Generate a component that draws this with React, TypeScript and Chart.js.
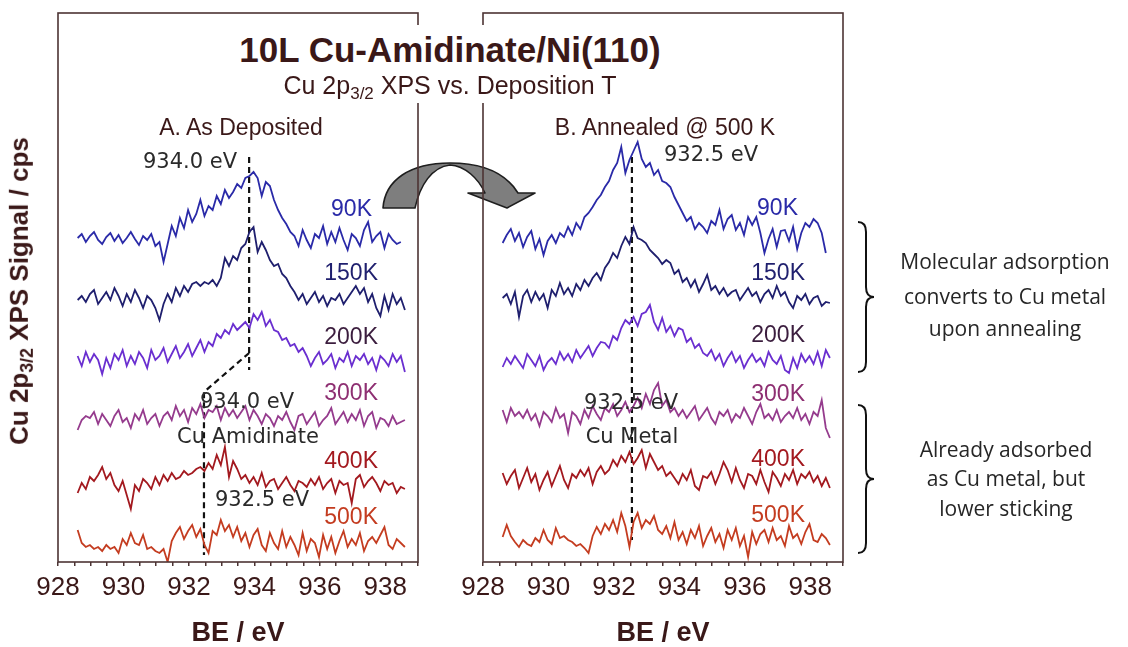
import React, { useEffect, useRef } from "react";
import { Chart, registerables } from "chart.js";

Chart.register(...registerables);

// ---- Binding-energy grid (eV) shared by every spectrum ----
const BE_START = 928.6;
const BE_STEP = 0.125;
const POINTS = 81;
const bindingEnergy: number[] = Array.from({ length: POINTS }, (_, i) =>
  Number((BE_START + i * BE_STEP).toFixed(3))
);

const temperatures = ["90K", "150K", "200K", "300K", "400K", "500K"];
const xTickLabels = ["928", "930", "932", "934", "936", "938"];

// ---- A. As deposited: Cu 2p3/2 signal above each trace's baseline (cps, a.u.) ----
const asDep90K = [
  2, 6, -2, 4, 8, 0, -4, 3, 7, -1, 5, -3, 2, 8, 1, -5, 4, 0, 6, -6, -2,
  -22,
  -4, 14, 4, 22,
  12, 30, 18, 26, 40, 24, 34, 30,
  44, 36, 50, 42, 48, 56, 52, 62,
  64, 68, 62, 44, 58, 54,
  40, 30, 22, 16, 8,
  4, -6, 10, 0, -8, 6, 2, 14, -4, 8, -2, 12, 0, -10, 6, 2, -6, 10, 18, -2, 4, 8, -8, 6, 0, -4, -2,
];
const asDep150K = [
  0, 4, -2, 6, 10, -4, 2, 8, 0, 12, 4, -6, 6, -2, 10, 2, -8, 4, 0, -8,
  -20,
  -4, 6, -2, 12, 4, 14, 8, 16, 18,
  14, 18, 16, 20, 14, 22,
  42, 34, 44, 40,
  52, 56, 68, 73,
  48, 58, 50, 40,
  34, 36, 26, 22, 14, 8,
  0, 6, -4, 2, 8, -2, 4, -6, 2, 0, 6, -4, 2, 8, 14, 6, 12, -2, 6, -8, -16, 4, -10, 6, -4, 2, -10,
];
const asDep200K = [
  4, -6, 8, -2, 6, 0, -14, 2, -8, 6, 0, 10, -6, 4, -4, 8, 2, -8, 10, 0, 4, 12, -2, 6, 14, 2,
  8, 16, 4, 12, 20, 8, 18, 14, 26, 22, 30, 26, 36,
  30, 34, 38, 32, 46, 40,
  48, 34, 40, 30,
  28, 20, 22, 14, 16, 8, 12,
  4, -6, 2, 8, -4, 0, 6, -8, 2, -2, 8, -6, 4, 0, 6, -4, 2, -10, 4, 0, -6, 6, -2, 4, -12,
];
const asDep300K = [
  -10, 0, 4, 2, 8, -4, 6, 0, -6, 4, 10, -2, 2, -8, 6, 0, 10, -4, 2, 6,
  -6, 4, 8, 0, 14, 4, 10, -2, 12, 6, 16, 2, 10, 8, 14, 0, 12, 4, 10, 2,
  8, 14, 0, 10, 4, -4, 6, 2, -6, 4, 0, 8, -2, -10, 4, 6, -4, 2, 8, -6,
  0, 4, 12, -4, 2, 8, -2, 6, 0, 10, -6, 4, 8, -8, 2, 0, -6, 4, -4, -2, 0,
];
const asDep400K = [
  -8, 2, -4, 8, 4, 10, 18, 6, 12, 0, -6, 4, -10,
  -24,
  0, -6, 6, 2, -4, 8, 0, 10, 4, 12, 6, 8, 14, 10, 12, 16,
  18, 14, 22, 16, 30, 20, 38, 8, 24, 16, 6,
  10, 2, 8, 0, 12, -2, 4, 6, -4, 2, 8, 0, -6, 4, 2, -2, 6, 0, 8, -4, 2, 6, -8, 4, 0, 2, -18, 6, 10, -2, 4, 8, 2, -6, 4, 0, 2, -8, -2, -4,
];
const asDep500K = [
  15, 2, -2, 0, -4, -2, -6, 0, -4, -2, -8, 6, 0, 12, 2, 0, 10, -4, -2, -6, -8, -4,
  -17,
  4, 12, 18, 6, 14, 20, 8, 16, 0, -8, 14, 10,
  25, 14, 20, 8, 18, 4, 12, -2, 10, 16, 0, -6, 12, 2, -4, 14, -2, 8, 0, -10, 12, -6, 6, 2, -12, 10, -4, 8, -8, 4, 14, -2, 6, 0, 12, -6, 4, 8, 2, 10, 18, 0, -4, 6, 2, -2,
];

// ---- B. Annealed @ 500 K ----
const ann90K = [
  0, 8, 14, 2, 10, -4, 6, 12, -6, 4, -12, 2, 8, 0, 10, 6,
  16, 8, 20, 14, 26, 30, 36,
  43, 48, 56, 62, 73, 80,
  96, 70, 83, 92, 101, 84,
  76, 80, 68, 73, 62, 60, 56, 46, 38,
  30, 22, 26, 14, 20, 16, 10, 22, 18,
  33, 14, 24, 28, 13, 20, 8, 26, 18, 26, 10, -10, 4, 14, -4, 12, 13, 2, 16, -6, 10, 20, 16, 24, 20, 10, -10,
];
const ann150K = [
  2, 6, -4, 8, -17, 4, 10, -2, 8, 0, 6, -8, 10, 4,
  17, 6, 12, 4, 16, 10, 20, 14, 22,
  27, 20, 32, 38, 47, 42, 54,
  63, 56, 73, 62, 60,
  57, 50, 46, 42, 36, 40, 37, 26, 30, 18, 22,
  13, 20, 8, 16, 25, 10, 14, 6, 12, 4, 8, 10, 0, 6, 12, 4, 8, -2, 6, 10, 2, 14, 4, 8, -2, -8, 4, 0, 6, -4, 2, 4, -6, -2, -3,
];
const ann200K = [
  -5, 4, -2, 6, 0, -6, 8, 2, -4, 6, -8, 0, 4, -2, 10, 2,
  8, 0, 12, 4, 10, 16, 6, 14, 20,
  19, 14, 26, 22, 34, 42, 38, 45, 36, 48, 50,
  57, 40, 32, 44, 30, 36, 26, 34,
  32, 20, 24, 14, 18, 9, 6, 12, 2,
  8, -4, 4, 10, 0, 6, -6, 2, 8, 0, 4, -4, 10, 2, -2, 6, -8, -11, 4, -6, 8, 0, 6, -2, 10, -4, 12, 4,
];
const ann300K = [
  8, -4, 10, 2, 6, 0, 8, -2, 4, -8, 6, 2, -4, 10, 0, 4, -15, 6, 2, -6,
  8, 0, 12, 4, -2, 10, 6, 14, 2, 8, 16, 6, 12, 20, 10, 24, 14, 28, 35, 12,
  18, 6, 10, 2, 8, 0, 6, 12, -2, 4, 10, 0, -6, 6, 2, 8, -4, 4, 0, 10,
  2, -6, 6, 14, 0, 4, -2, 8, -4, 2, 6, 0, 10, -2, 4, -6, 6, 2, 18, -10, -20,
];
const ann400K = [
  7, -4, 4, 10, -8, 2, 12, -2, 6, -10, 0, 8, -6, 4, 14, 0, -8, 6, 2, 10,
  4, 12, -4, 8, 14, 6, 10, 20, 14, 24, 18, 28, 16, 22, 30, 12, 26, 18, 10, 14,
  4, 8, 2, -4, 6, 0, 10, -6, -10, 4, 2, 8, -4, 6, 18, 10, -2, 12, 0, -8,
  6, 4, -4, 10, -2, -12, 8, 2, -6, 6, 0, 10, -4, 6, 2, 8, -2, 4, -6, 2, -8,
];
const ann500K = [
  3, 15, 4, -2, -7, 0, -4, -6, 2, -2, 10, 0, -4, 12, 2, 4, 0, -2, -6, -4,
  -8, -13, 4, 13, 6, 16, 10, 20, 8, 27, 14, -7, 18, 27, 12, 20, 16, 24, 10, 6,
  14, 2, 18, 0, 8, -4, 10, 2, 14, -6, 4, 12, -2, 6, -8, 10, 0, 12, -6, 4,
  -17, 8, -4, 6, 10, -2, 12, 0, 4, -6, 14, 2, 6, -4, 8, 16, 0, -2, 6, 2, -5,
];

// vertical stacking offsets of each spectrum (90K on top)
const asDepOffsets = [322, 262, 202, 142, 77, 17];
const annOffsets = [319, 262, 200, 144, 82, 22];

// peak-position guides (BE in eV, signal in stacked units)
const asDepGuide = [
  { x: 933.84, y: 405 },
  { x: 933.84, y: 192 },
  { x: 933.84, y: 209 },
  { x: 932.46, y: 170 },
  { x: 932.46, y: 7 },
];
const annGuide = [
  { x: 932.55, y: 405 },
  { x: 932.55, y: 22 },
];

const traceColors = ["#2a2aa8", "#1f1f6e", "#6a2fd0", "#953b8d", "#a3191f", "#c43c20"];
const labelColors = ["#2a2aa8", "#1f1f6e", "#3b1d3e", "#8e2f72", "#a3191f", "#c43c20"];
const frameColor = "#4d3434";
const darkText = "#3a1818";

const HELV = "'Liberation Sans', Arial, Helvetica, sans-serif";
const DEJAVU = "'DejaVu Sans', sans-serif";
const HUMAN = "'Open Sans', 'Noto Sans', sans-serif";

const framePlugin = {
  id: "frame",
  afterDatasetsDraw(chart: any) {
    const { ctx, chartArea } = chart;
    const { left, top, right, bottom } = chartArea;
    ctx.save();
    ctx.strokeStyle = frameColor;
    ctx.lineWidth = 1.6;
    ctx.strokeRect(left, top, right - left, bottom - top);
    ctx.restore();
  },
};

type PanelProps = {
  left: number;
  width: number;
  padLeft: number;
  padRight: number;
  series: number[][];
  offsets: number[];
  guide: { x: number; y: number }[];
};

function SpectraPanel({ left, width, padLeft, padRight, series, offsets, guide }: PanelProps) {
  const ref = useRef<HTMLCanvasElement | null>(null);
  useEffect(() => {
    if (!ref.current) return;
    const datasets: any[] = series.map((s, k) => ({
      label: temperatures[k],
      data: s.map((v, i) => ({ x: bindingEnergy[i], y: offsets[k] + v })),
      borderColor: traceColors[k],
      borderWidth: 1.8,
      pointRadius: 0,
      tension: 0,
      fill: false,
    }));
    datasets.push({
      label: "peak",
      data: guide,
      borderColor: "#111111",
      borderWidth: 2.2,
      borderDash: [6, 4],
      pointRadius: 0,
      tension: 0,
      fill: false,
    });
    const chart = new Chart(ref.current, {
      type: "line",
      data: { datasets },
      options: {
        animation: false,
        responsive: true,
        maintainAspectRatio: false,
        layout: { padding: { left: padLeft, right: padRight, top: 13, bottom: 0 } },
        plugins: { legend: { display: false }, tooltip: { enabled: false } },
        scales: {
          x: {
            type: "linear",
            min: 928,
            max: 939,
            afterFit: (scale: any) => {
              scale.height = 85;
            },
            ticks: {
              stepSize: 0.5,
              autoSkip: false,
              maxRotation: 0,
              padding: 9,
              color: darkText,
              font: { family: HELV, size: 26, lineHeight: 1 },
              callback: (v: any) => {
                const s = String(v);
                return xTickLabels.includes(s) ? s : "";
              },
            },
            grid: {
              drawOnChartArea: false,
              drawTicks: true,
              tickLength: 4,
              color: frameColor,
              lineWidth: 1.5,
            },
            border: { display: false },
            title: {
              display: true,
              text: "BE / eV",
              color: darkText,
              font: { family: HELV, size: 27, weight: "bold", lineHeight: 1 },
              padding: { top: 0, bottom: 0 },
            },
          },
          y: { display: false, min: 0, max: 549 },
        },
      } as any,
      plugins: [framePlugin],
    });
    return () => chart.destroy();
  }, []);
  return (
    <div style={{ position: "absolute", left, top: 0, width, height: 647, zIndex: 1 }}>
      <canvas ref={ref} />
    </div>
  );
}

type TxtProps = {
  x: number;
  y: number;
  size: number;
  family?: string;
  color?: string;
  bold?: boolean;
  align?: "left" | "center" | "right";
  children: React.ReactNode;
};

function Txt({ x, y, size, family = HELV, color = darkText, bold = false, align = "left", children }: TxtProps) {
  const shift = align === "center" ? "-50%" : align === "right" ? "-100%" : "0";
  return (
    <div
      style={{
        position: "absolute",
        left: x,
        top: y - size * 0.6,
        transform: `translateX(${shift})`,
        fontFamily: family,
        fontSize: size,
        lineHeight: `${size * 1.2}px`,
        fontWeight: bold ? 700 : 400,
        color,
        whiteSpace: "nowrap",
        zIndex: 3,
      }}
    >
      {children}
    </div>
  );
}

const asDepLabelPos = [
  { x: 372, y: 209 },
  { x: 378, y: 273 },
  { x: 378, y: 337 },
  { x: 378, y: 393 },
  { x: 378, y: 461 },
  { x: 378, y: 517 },
];
const annLabelPos = [
  { x: 798, y: 208 },
  { x: 805, y: 273 },
  { x: 805, y: 335 },
  { x: 805, y: 394 },
  { x: 805, y: 459 },
  { x: 805, y: 515 },
];

function Brace({ top, bottom }: { top: number; bottom: number }) {
  const mid = (top + bottom) / 2;
  const x0 = 858;
  const x1 = 866;
  const xt = 874;
  const d = `M ${x0} ${top} Q ${x1} ${top} ${x1} ${top + 10} L ${x1} ${mid - 10} Q ${x1} ${mid} ${xt} ${mid} Q ${x1} ${mid} ${x1} ${mid + 10} L ${x1} ${bottom - 10} Q ${x1} ${bottom} ${x0} ${bottom}`;
  return <path d={d} fill="none" stroke="#111" strokeWidth={2} />;
}

export default function App() {
  const sub = (s: string) => (
    <span style={{ fontSize: "0.68em", verticalAlign: "-0.3em" }}>{s}</span>
  );
  return (
    <div
      style={{
        position: "fixed",
        left: 0,
        top: 0,
        width: 1128,
        height: 647,
        background: "#ffffff",
        overflow: "hidden",
      }}
    >
      {/* curved transfer arrow between the panels (under the frames) */}
      <svg width={1128} height={647} style={{ position: "absolute", left: 0, top: 0, zIndex: 0 }}>
        <path
          d="M 383 208 C 385 180 410 163 450 163 C 480 163 505 172 518 193 L 535 193 L 507 208 L 468 193 L 485 193 C 478 178 465 166 450 165 C 432 167 420 185 415 208 Z"
          fill="#7e7e7e"
          stroke="#1e1e1e"
          strokeWidth={1.6}
          strokeLinejoin="round"
        />
      </svg>

      <SpectraPanel
        left={0}
        width={440}
        padLeft={58}
        padRight={22}
        series={[asDep90K, asDep150K, asDep200K, asDep300K, asDep400K, asDep500K]}
        offsets={asDepOffsets}
        guide={asDepGuide}
      />
      <SpectraPanel
        left={440}
        width={430}
        padLeft={43}
        padRight={27}
        series={[ann90K, ann150K, ann200K, ann300K, ann400K, ann500K]}
        offsets={annOffsets}
        guide={annGuide}
      />

      {/* braces on the right */}
      <svg width={1128} height={647} style={{ position: "absolute", left: 0, top: 0, zIndex: 2 }}>
        <Brace top={222} bottom={372} />
        <Brace top={405} bottom={553} />
      </svg>

      {/* title block */}
      <div
        style={{
          position: "absolute",
          left: 225,
          top: 25,
          width: 450,
          height: 78,
          background: "#ffffff",
          zIndex: 3,
        }}
      />
      <Txt x={450} y={50} size={35} bold align="center">
        10L Cu-Amidinate/Ni(110)
      </Txt>
      <Txt x={450} y={85} size={25} align="center">
        Cu 2p{sub("3/2")} XPS vs. Deposition T
      </Txt>

      {/* y-axis title */}
      <div
        style={{
          position: "absolute",
          left: 21,
          top: 291,
          transform: "translate(-50%, -50%) rotate(-90deg)",
          fontFamily: HELV,
          fontSize: 26,
          fontWeight: 700,
          color: darkText,
          whiteSpace: "nowrap",
          zIndex: 3,
        }}
      >
        Cu 2p{sub("3/2")} XPS Signal / cps
      </div>

      {/* panel headings */}
      <Txt x={241} y={128} size={23} align="center">A. As Deposited</Txt>
      <Txt x={665} y={128} size={23} align="center">B. Annealed @ 500 K</Txt>

      {/* peak annotations */}
      <Txt x={190} y={162} size={21} family={DEJAVU} color="#2a2a2a" align="center">934.0 eV</Txt>
      <Txt x={711} y={155} size={21} family={DEJAVU} color="#2a2a2a" align="center">932.5 eV</Txt>
      <Txt x={247} y={402} size={21} family={DEJAVU} color="#2a2a2a" align="center">934.0 eV</Txt>
      <Txt x={248} y={437} size={21} family={DEJAVU} color="#2a2a2a" align="center">Cu Amidinate</Txt>
      <Txt x={262} y={500} size={21} family={DEJAVU} color="#2a2a2a" align="center">932.5 eV</Txt>
      <Txt x={631} y={403} size={21} family={DEJAVU} color="#2a2a2a" align="center">932.5 eV</Txt>
      <Txt x={632} y={437} size={21} family={DEJAVU} color="#2a2a2a" align="center">Cu Metal</Txt>

      {/* temperature labels */}
      {temperatures.map((t, k) => (
        <Txt key={"a" + t} x={asDepLabelPos[k].x} y={asDepLabelPos[k].y} size={23} color={labelColors[k]} align="right">
          {t}
        </Txt>
      ))}
      {temperatures.map((t, k) => (
        <Txt key={"b" + t} x={annLabelPos[k].x} y={annLabelPos[k].y} size={23} color={labelColors[k]} align="right">
          {t}
        </Txt>
      ))}

      {/* side notes */}
      <Txt x={1005} y={262} size={21} family={HUMAN} color="#262626" align="center">Molecular adsorption</Txt>
      <Txt x={1005} y={297} size={21} family={HUMAN} color="#262626" align="center">converts to Cu metal</Txt>
      <Txt x={1005} y={329} size={21} family={HUMAN} color="#262626" align="center">upon annealing</Txt>
      <Txt x={1006} y={450} size={21} family={HUMAN} color="#262626" align="center">Already adsorbed</Txt>
      <Txt x={1006} y={479} size={21} family={HUMAN} color="#262626" align="center">as Cu metal, but</Txt>
      <Txt x={1006} y={509} size={21} family={HUMAN} color="#262626" align="center">lower sticking</Txt>
    </div>
  );
}
